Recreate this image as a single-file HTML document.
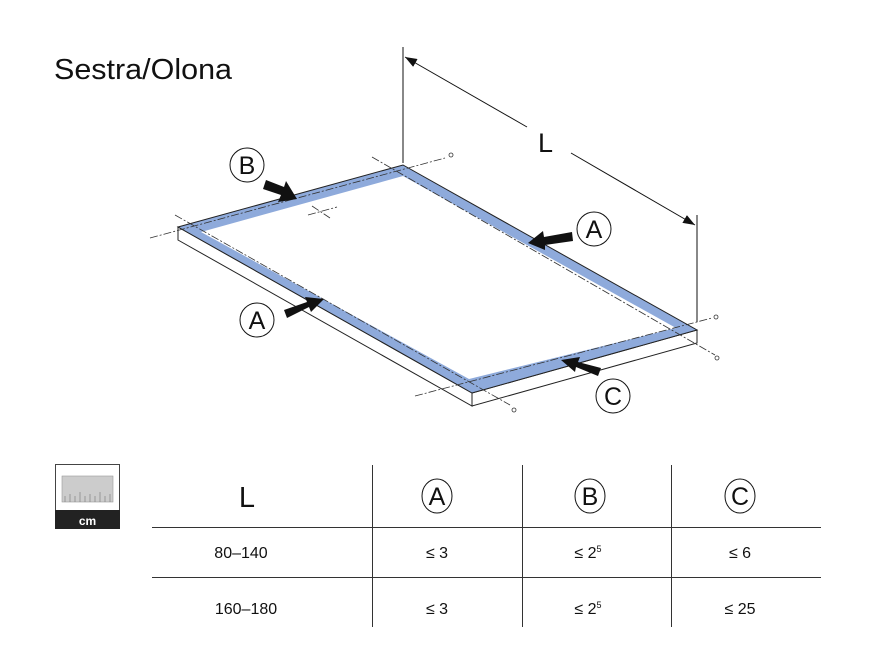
<!DOCTYPE html>
<html><head><meta charset="utf-8"><style>
html,body{margin:0;padding:0;background:#fff;}
svg{display:block;}
text{font-family:"Liberation Sans",Arial,sans-serif;fill:#111;}
</style></head><body>
<svg width="880" height="667" viewBox="0 0 880 667" xmlns="http://www.w3.org/2000/svg">
<defs>
<marker id="ah" markerWidth="12" markerHeight="9" refX="12" refY="4.5" orient="auto" markerUnits="userSpaceOnUse">
<path d="M0,0 L12,4.5 L0,9 Z" fill="#111"/></marker>
</defs>
<text x="54" y="79" font-size="29" textLength="178" lengthAdjust="spacingAndGlyphs">Sestra/Olona</text>

<!-- slab sides -->
<polygon points="178,227 472,393 472,406 178,240" fill="#fff" stroke="#222" stroke-width="1"/>
<polygon points="472,393 697,330 697,343 472,406" fill="#fff" stroke="#222" stroke-width="1"/>
<!-- top face blue -->
<polygon points="178,227 403,165 697,330 472,393" fill="#8eaadb" stroke="#222" stroke-width="1"/>
<!-- inner white -->
<polygon points="201,232 403,176 676,328 469,379" fill="#fff"/>

<!-- dash-dot cut lines -->
<g stroke="#333" stroke-width="0.8" stroke-dasharray="8,2,2,2" fill="none">
<line x1="150" y1="238" x2="445" y2="158"/>
<line x1="175" y1="215" x2="510" y2="405"/>
<line x1="372" y1="157" x2="715" y2="355"/>
<line x1="415" y1="396" x2="712" y2="318"/>
<line x1="308" y1="215" x2="337" y2="207"/>
<line x1="312" y1="206" x2="330" y2="218"/>
</g>
<g stroke="#333" stroke-width="0.8" fill="none">
<circle cx="451" cy="155" r="2"/><circle cx="716" cy="317" r="2"/><circle cx="717" cy="358" r="2"/><circle cx="514" cy="410" r="2"/>
</g>

<!-- dimension L -->
<g stroke="#111" stroke-width="1" fill="none">
<line x1="403" y1="47" x2="403" y2="163"/>
<line x1="697" y1="215" x2="697" y2="322"/>
<line x1="527" y1="127" x2="405" y2="57" marker-end="url(#ah)"/>
<line x1="571" y1="153" x2="695" y2="225" marker-end="url(#ah)"/>
</g>
<text x="538" y="152" font-size="27">L</text>

<!-- arrows -->
<g fill="#111">
<polygon points="266,180 284,187 286,181 297,199 278,202 281,195 263,189"/>
<polygon points="572,232 544,237 543,231 528,243 545,250 545,245 573,241"/>
<polygon points="284,310 307,302 305,297 324,299 311,312 309,307 287,318"/>
<polygon points="601,368 578,362 580,357 561,360 575,372 576,367 598,376"/>
</g>

<!-- circled labels -->
<g fill="#fff" stroke="#111" stroke-width="1">
<circle cx="247" cy="165" r="17"/>
<circle cx="594" cy="229" r="17"/>
<circle cx="257" cy="320" r="17"/>
<circle cx="613" cy="396" r="17"/>
</g>
<g font-size="25" text-anchor="middle">
<text x="247" y="174">B</text>
<text x="594" y="238">A</text>
<text x="257" y="329">A</text>
<text x="613" y="405">C</text>
</g>

<!-- cm icon -->
<rect x="55.5" y="464.5" width="64" height="64" fill="#fff" stroke="#444"/>
<rect x="62" y="476" width="51" height="26" fill="#ccc" stroke="#999" stroke-width="0.6"/>
<g stroke="#777" stroke-width="0.6">
<line x1="65" y1="502" x2="65" y2="496"/><line x1="70" y1="502" x2="70" y2="494"/><line x1="75" y1="502" x2="75" y2="496"/><line x1="80" y1="502" x2="80" y2="492"/><line x1="85" y1="502" x2="85" y2="496"/><line x1="90" y1="502" x2="90" y2="494"/><line x1="95" y1="502" x2="95" y2="496"/><line x1="100" y1="502" x2="100" y2="492"/><line x1="105" y1="502" x2="105" y2="496"/><line x1="110" y1="502" x2="110" y2="494"/>
</g>
<rect x="55" y="510" width="65" height="19" fill="#222"/>
<text x="87.5" y="525" font-size="12" font-weight="bold" text-anchor="middle" style="fill:#fff">cm</text>

<!-- table -->
<g stroke="#333" stroke-width="1">
<line x1="152" y1="527.5" x2="821" y2="527.5"/>
<line x1="152" y1="577.5" x2="821" y2="577.5"/>
<line x1="372.5" y1="465" x2="372.5" y2="627"/>
<line x1="522.5" y1="465" x2="522.5" y2="627"/>
<line x1="671.5" y1="465" x2="671.5" y2="627"/>
</g>
<text x="247" y="507" font-size="29" text-anchor="middle">L</text>
<g fill="#fff" stroke="#111" stroke-width="1">
<ellipse cx="437" cy="496" rx="15" ry="17"/>
<ellipse cx="590" cy="496" rx="15" ry="17"/>
<ellipse cx="740" cy="496" rx="15" ry="17"/>
</g>
<g font-size="25" text-anchor="middle">
<text x="437" y="505">A</text><text x="590" y="505">B</text><text x="740" y="505">C</text>
</g>
<g font-size="16" text-anchor="middle">
<text x="241" y="558">80–140</text>
<text x="437" y="558">≤ 3</text>
<text x="588" y="558">≤ 2<tspan font-size="9" dy="-6">5</tspan></text>
<text x="740" y="558">≤ 6</text>
<text x="246" y="614">160–180</text>
<text x="437" y="614">≤ 3</text>
<text x="588" y="614">≤ 2<tspan font-size="9" dy="-6">5</tspan></text>
<text x="740" y="614">≤ 25</text>
</g>
</svg>
</body></html>
